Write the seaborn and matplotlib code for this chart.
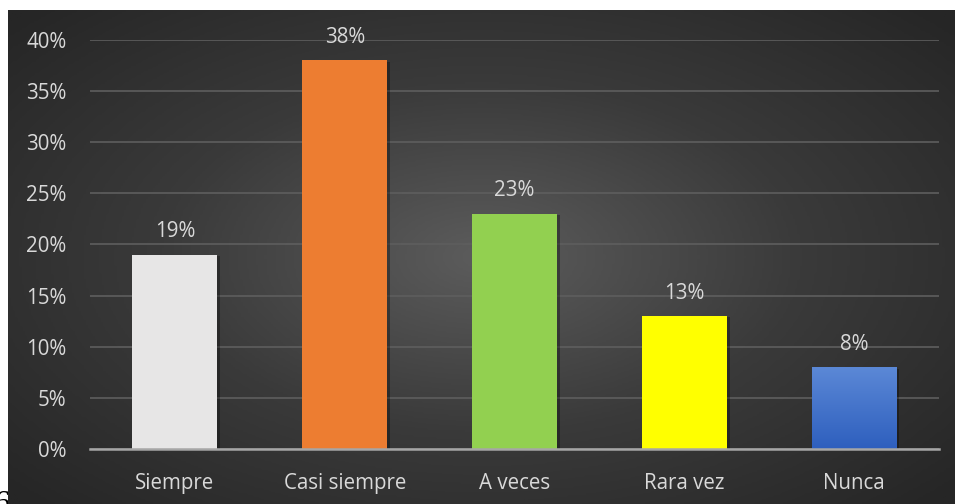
import numpy as np
import pandas as pd
import matplotlib
matplotlib.use("Agg")
import matplotlib.pyplot as plt
import matplotlib.patheffects as pe
from matplotlib.colors import LinearSegmentedColormap
import seaborn as sns

categories = ["Siempre", "Casi siempre", "A veces", "Rara vez", "Nunca"]
values = [0.19, 0.38, 0.23, 0.13, 0.08]
labels = ["19%", "38%", "23%", "13%", "8%"]
bar_colors = ["#E7E6E6", "#ED7D31", "#92D050", "#FFFF00", "#4472C4"]
yticks = [0.0, 0.05, 0.10, 0.15, 0.20, 0.25, 0.30, 0.35, 0.40]
ytick_labels = ["0%", "5%", "10%", "15%", "20%", "25%", "30%", "35%", "40%"]

sns.set_theme(style="white")
plt.rcParams["font.family"] = ["Open Sans", "DejaVu Sans"]

W, H = 955, 504
FS = 14.8
fig = plt.figure(figsize=(W / 100, H / 100), dpi=100)
fig.patch.set_facecolor("white")

# stray glyph at bottom-left, partly hidden behind the panel
fig.text(-0.006, -0.03, "6", family=["Liberation Serif", "DejaVu Serif"],
         fontsize=22, color="black", zorder=-5, ha="left", va="bottom")

# dark radial-gradient panel
bg = fig.add_axes([8 / W, 0, (W - 8) / W, (H - 10) / H], zorder=-1)
nx, ny = 400, 220
xx, yy = np.meshgrid(np.linspace(-1, 1, nx), np.linspace(-1, 1, ny))
r = np.sqrt((xx / 1.0) ** 2 + (yy / 1.05) ** 2)
r = np.clip(r / 1.35, 0, 1)
cmap_bg = LinearSegmentedColormap.from_list("bg", ["#5c5c5c", "#3a3a3a", "#262626"])
bg.imshow(r, cmap=cmap_bg, aspect="auto", extent=[0, 1, 0, 1], vmin=0, vmax=1)
bg.set_axis_off()

# main chart axes
ax = fig.add_axes([90 / W, (H - 449) / H, (939 - 90) / W, (449 - 40) / H])
ax.patch.set_alpha(0)

df = pd.DataFrame({"cat": categories, "val": values})
sns.barplot(data=df, x="cat", y="val", hue="cat", palette=bar_colors,
            legend=False, width=0.5, ax=ax, saturation=1, zorder=3)

ax.set_ylim(0, 0.40)
ax.set_xlim(-0.5, len(categories) - 0.5)
ax.set_yticks(yticks)
ax.set_yticklabels(ytick_labels)
ax.set_xlabel("")
ax.set_ylabel("")
ax.grid(axis="y", color="#5e5e5e", linewidth=1.2, zorder=0)
ax.grid(axis="x", visible=False)
ax.set_axisbelow(True)
for s in ["top", "right", "left"]:
    ax.spines[s].set_visible(False)
ax.spines["bottom"].set_color("#a6a6a6")
ax.spines["bottom"].set_linewidth(1.8)
ax.spines["bottom"].set_zorder(4)
ax.tick_params(axis="y", length=0, pad=17, labelsize=FS, labelcolor="#d9d9d9")
ax.tick_params(axis="x", length=0, pad=17, labelsize=FS, labelcolor="#d9d9d9")

# shadows and gradient for last bar
grad = LinearSegmentedColormap.from_list("blue", ["#2E5FBE", "#5B88D6"])
for i, p in enumerate(ax.patches):
    p.set_edgecolor("none")
    p.set_path_effects([pe.SimplePatchShadow(offset=(2, -1), alpha=0.3, shadow_rgbFace="black"),
                        pe.Normal()])
last = ax.patches[len(categories) - 1]
x0, w, h = last.get_x(), last.get_width(), last.get_height()
g = np.linspace(0, 1, 100).reshape(-1, 1)
im = ax.imshow(g, cmap=grad, aspect="auto", extent=[x0, x0 + w, 0, h],
               origin="lower", zorder=3.5)
im.set_clip_path(last)
ax.set_xlim(-0.5, len(categories) - 0.5)
ax.set_ylim(0, 0.40)
ax.set_aspect("auto")

for i, p in enumerate(ax.patches[:len(categories)]):
    ax.annotate(labels[i], (p.get_x() + p.get_width() / 2, p.get_height()),
                xytext=(0, 9), textcoords="offset points", ha="center",
                va="bottom", fontsize=FS, color="#d9d9d9")

fig.savefig("out.png", dpi=100)
